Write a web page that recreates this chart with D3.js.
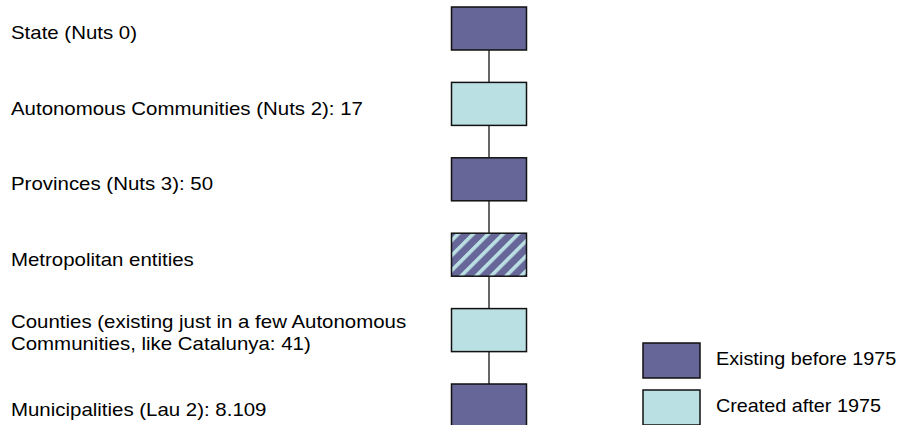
<!DOCTYPE html>
<html>
<head>
<meta charset="utf-8">
<script src="https://cdn.jsdelivr.net/npm/d3@7"></script>
<style>
  body { margin: 0; background: #fff; }
  svg { display: block; }
  text { font-family: "Liberation Sans", Arial, sans-serif; font-size: 18px; fill: #000; }
</style>
</head>
<body>
<div id="chart"></div>
<script>
// levels of government, top to bottom
const levelLabels = [
  ["State (Nuts 0)"],
  ["Autonomous Communities (Nuts 2): 17"],
  ["Provinces (Nuts 3): 50"],
  ["Metropolitan entities"],
  ["Counties (existing just in a few Autonomous", "Communities, like Catalunya: 41)"],
  ["Municipalities (Lau 2): 8.109"]
];
// "old" = existing before 1975, "new" = created after 1975, "mixed" = both
const levelKinds = ["old", "new", "old", "mixed", "new", "old"];

const legendKinds = ["old", "new"];
const legendLabels = ["Existing before 1975", "Created after 1975"];

const width = 899, height = 425;
const colors = { old: "#666699", new: "#bbe0e3" };
// the original text is a bit wider than Liberation Sans
const labelScale = 1.135;
const legendScale = 1.1;

const svg = d3.select("#chart")
  .append("svg")
  .attr("width", width)
  .attr("height", height);

// stripes for the mixed box
const defs = svg.append("defs");
const pat = defs.append("pattern")
  .attr("id", "stripes")
  .attr("patternUnits", "userSpaceOnUse")
  .attr("width", 10.6)
  .attr("height", 10.6)
  .attr("patternTransform", "rotate(45)");
pat.append("rect").attr("width", 10.6).attr("height", 10.6).attr("fill", colors.old);
pat.append("rect").attr("x", 0).attr("width", 3.6).attr("height", 10.6).attr("fill", colors.new);

// box positions
const boxW = 75, boxH = 43;
const boxX = 451.5;
const yScale = d3.scaleLinear()
  .domain([0, levelLabels.length - 1])
  .range([7, 384]);

const fillFor = k => k === "mixed" ? "url(#stripes)" : colors[k];

// connectors
svg.append("g")
  .selectAll("line")
  .data(d3.range(levelLabels.length - 1))
  .join("line")
  .attr("x1", boxX + boxW / 2)
  .attr("x2", boxX + boxW / 2)
  .attr("y1", i => yScale(i) + boxH)
  .attr("y2", i => yScale(i + 1))
  .attr("stroke", "#666")
  .attr("stroke-width", 2);

// boxes
svg.append("g")
  .selectAll("rect")
  .data(levelKinds)
  .join("rect")
  .attr("x", boxX)
  .attr("y", (d, i) => yScale(i))
  .attr("width", boxW)
  .attr("height", boxH)
  .attr("fill", d => fillFor(d))
  .attr("stroke", "#111")
  .attr("stroke-width", 1.5);

// labels on the left
const lineH = 22;
const labels = svg.append("g")
  .attr("transform", `scale(${labelScale},1)`);
levelLabels.forEach((lines, i) => {
  const mid = yScale(i) + boxH / 2;
  const first = mid + 11 - (lines.length - 1) * 13;
  const t = labels.append("text");
  lines.forEach((ln, j) => {
    t.append("tspan")
      .attr("x", 11 / labelScale)
      .attr("y", first + j * lineH)
      .text(ln);
  });
});

// legend
const legX = 643, legW = 57, legH = 35;
const legY = d3.scaleLinear().domain([0, 1]).range([343, 390]);
const legend = svg.append("g");
legend.selectAll("rect")
  .data(legendKinds)
  .join("rect")
  .attr("x", legX)
  .attr("y", (d, i) => legY(i))
  .attr("width", legW)
  .attr("height", legH)
  .attr("fill", d => colors[d])
  .attr("stroke", "#111")
  .attr("stroke-width", 1.5);

const legText = svg.append("g")
  .attr("transform", `scale(${legendScale},1)`);
legText.selectAll("text")
  .data(legendLabels)
  .join("text")
  .attr("x", 716 / legendScale)
  .attr("y", (d, i) => legY(i) + 22)
  .text(d => d);
</script>
</body>
</html>
